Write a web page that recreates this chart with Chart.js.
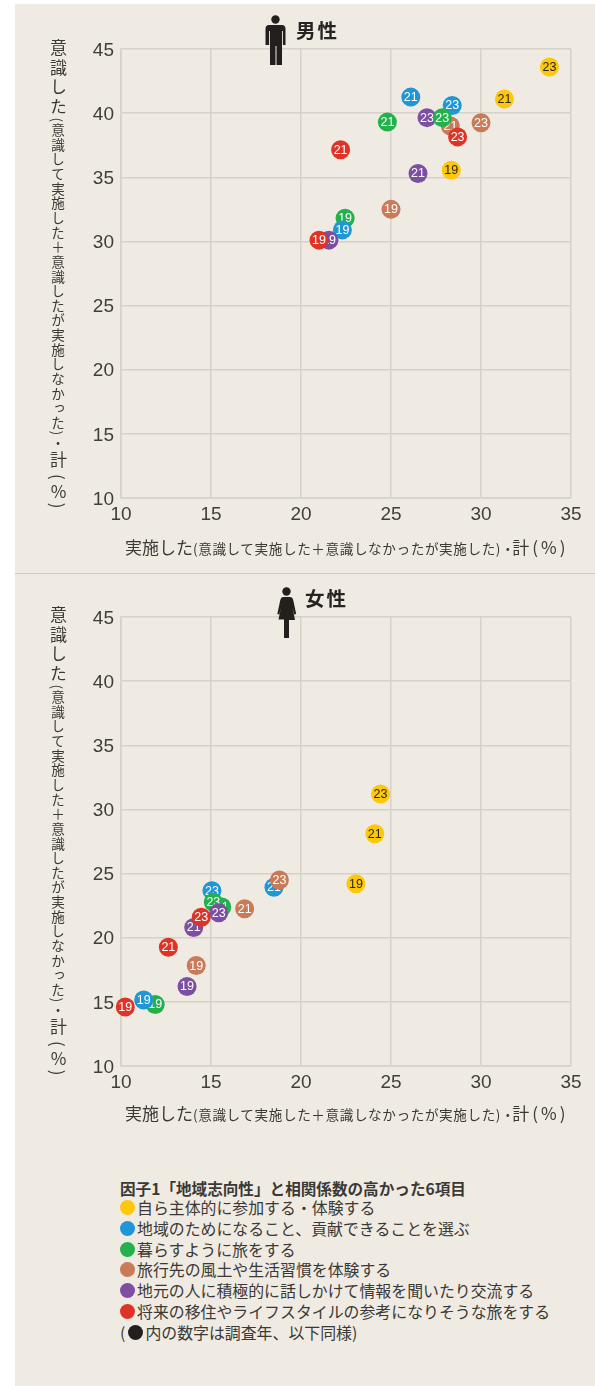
<!DOCTYPE html>
<html lang="ja">
<head>
<meta charset="utf-8">
<title>因子1「地域志向性」と相関係数の高かった6項目</title>
<script src="https://cdn.jsdelivr.net/npm/chart.js@4"></script>
<style>
  html, body { margin: 0; background: #fff; }
  body { position: relative; width: 595px; height: 1386px; overflow: hidden; font-family: "Noto Sans CJK JP", sans-serif; color: #3a3936; }
  #panel { position: absolute; left: 15px; top: 4px; width: 580px; height: 1382px; background: #efebe2; }
  #rule { position: absolute; left: 15px; top: 573px; width: 580px; height: 1px; background: #cfcbc2; }
  canvas { position: absolute; left: 0; }
  .sex { position: absolute; font-size: 19.5px; font-weight: 700; letter-spacing: 2px; line-height: 24px; color: #262422; }
  .icon { position: absolute; fill: #231f1e; }
  .xname, .yname { position: absolute; white-space: nowrap; font-size: 17px; line-height: 22px; }
  .xname small, .yname small { font-size: 13.6px; }
  .yname { writing-mode: vertical-rl; letter-spacing: 2.6px; }
  .yname small { letter-spacing: 1.05px; }
  .yname span { letter-spacing: 3px; margin-top: 3px; display: inline-block; }
  .yname i { font-style: normal; text-orientation: upright; }
  .xname small { letter-spacing: 0.6px; }
  .xname span { letter-spacing: 3px; margin-left: -3px; }
  .key { position: absolute; left: 120px; white-space: nowrap; font-size: 15.9px; line-height: 20px; }
  .key b { display: inline-block; width: 15px; height: 15px; border-radius: 50%; margin-right: 2px; vertical-align: -1px; }
</style>
</head>
<body>
<div id="panel"></div>
<div id="rule"></div>
<canvas id="maleChart" width="595" height="560" style="top:0"></canvas>
<canvas id="femaleChart" width="595" height="560" style="top:568px"></canvas>

<svg class="icon" style="left:265px;top:15px" width="21" height="51" viewBox="0 0 21 51">
  <circle cx="10.5" cy="4.5" r="4.2"/>
  <path d="M4 10h13q3.5 0 3.500 4v16h-2.600V16h-.9v34h-5.500V31h-1v19H5V16h-.9v14H.5V14Q.5 10 4 10z"/>
</svg>
<svg class="icon" style="left:276px;top:587px" width="21" height="51" viewBox="0 0 21 51">
  <circle cx="10.5" cy="4.5" r="4.2"/>
  <path d="M7 10h7q2.500 0 3.200 3l3 14-2 .5-1.700-7 2.500 12.500H13v18.500H8V32.500H2.500L5 20.500l-1.700 7-2-.5 3-14Q5 10 7 10z"/>
</svg>
<div class="sex" style="left:296px;top:18px">男性</div>
<div class="sex" style="left:305px;top:586px">女性</div>

<div class="yname" style="left:47px;top:39px">意識した<small>(意識して実施した＋意識したが実施しなかった)・</small>計<span>(<i>%</i>)</span></div>
<div class="yname" style="left:47px;top:606px">意識した<small>(意識して実施した＋意識したが実施しなかった)・</small>計<span>(<i>%</i>)</span></div>
<div class="xname" style="left:125px;top:536px">実施した<small>(意識して実施した＋意識しなかったが実施した)・</small><span>計(%)</span></div>
<div class="xname" style="left:125px;top:1102px">実施した<small>(意識して実施した＋意識しなかったが実施した)・</small><span>計(%)</span></div>

<div id="keys"></div>

<script>
const items = ["自ら主体的に参加する・体験する", "地域のためになること、貢献できることを選ぶ", "暮らすように旅をする", "旅行先の風土や生活習慣を体験する", "地元の人に積極的に話しかけて情報を聞いたり交流する", "将来の移住やライフスタイルの参考になりそうな旅をする"];
const itemColors = ["#fdc70c", "#1f96d6", "#22b14c", "#c97b59", "#7d4fa3", "#de3427"];
const keyTitle = "因子1「地域志向性」と相関係数の高かった6項目";
const keyNote = "内の数字は調査年、以下同様";

const xTicks = [10, 15, 20, 25, 30, 35];
const yTicks = [10, 15, 20, 25, 30, 35, 40, 45];

// listed in paint order, later points sit on top
const maleItem = [0, 0, 0, 2, 1, 4, 5, 3, 1, 2, 4, 5, 3, 1, 4, 3, 2, 5];
const maleYear = [19, 21, 23, 19, 19, 19, 19, 19, 21, 21, 21, 21, 21, 23, 23, 23, 23, 23];
const maleX = [28.35, 31.3, 33.8, 22.45, 22.3, 21.55, 21.0, 25.0, 26.1, 24.8, 26.5, 22.2, 28.3, 28.4, 27.0, 30.0, 27.85, 28.7];
const maleY = [35.55, 41.1, 43.6, 31.8, 30.9, 30.1, 30.1, 32.5, 41.25, 39.3, 35.3, 37.15, 39.0, 40.6, 39.65, 39.25, 39.65, 38.15];

const femaleItem = [0, 0, 0, 2, 1, 4, 3, 5, 1, 2, 3, 4, 5, 1, 3, 2, 5, 4];
const femaleYear = [19, 21, 23, 19, 19, 19, 19, 19, 21, 21, 21, 21, 21, 23, 23, 23, 23, 23];
const femaleX = [23.05, 24.1, 24.42, 11.9, 11.26, 13.67, 14.18, 10.24, 18.5, 15.6, 16.87, 14.04, 12.63, 15.05, 18.8, 15.13, 14.46, 15.43];
const femaleY = [24.2, 28.1, 31.2, 14.8, 15.15, 16.2, 17.83, 14.6, 23.93, 22.4, 22.26, 20.8, 19.25, 23.67, 24.5, 22.76, 21.6, 21.95];

// year number on each marker, drawn straight after its own dataset so overlaps stay right
const yearLabels = {
  id: "yearLabels",
  afterDatasetDraw(chart, args) {
    const pt = args.meta.data[0];
    const ds = chart.data.datasets[args.index];
    const ctx = chart.ctx;
    ctx.save();
    ctx.font = '12.5px "Liberation Sans", sans-serif';
    ctx.textAlign = "center";
    ctx.textBaseline = "middle";
    ctx.fillStyle = ds.backgroundColor === itemColors[0] ? "#2b2620" : "#fff";
    ctx.fillText(ds.year, pt.x, pt.y + 0.5);
    ctx.restore();
  }
};

function axis(ticks, tickExtra, extra) {
  return {
    min: ticks[0],
    max: ticks[ticks.length - 1],
    afterBuildTicks: s => { s.ticks = ticks.map(value => ({ value })); },
    ticks: { color: "#3f3e3b", font: { family: '"Liberation Sans", sans-serif', size: 19 }, autoSkip: false, maxRotation: 0, ...tickExtra },
    grid: { color: "#d6d2c9", lineWidth: 1.5, drawTicks: false },
    border: { color: "#d6d2c9", width: 1.5 },
    ...extra
  };
}

function draw(id, who, years, xs, ys) {
  new Chart(document.getElementById(id), {
    type: "scatter",
    data: {
      datasets: xs.map((x, i) => ({
        label: items[who[i]],
        year: years[i],
        order: -i,
        data: [{ x, y: ys[i] }],
        clip: false,
        backgroundColor: itemColors[who[i]],
        borderWidth: 0,
        pointRadius: 9.5,
        pointHoverRadius: 9.5
      }))
    },
    options: {
      responsive: false,
      animation: false,
      events: [],
      layout: { padding: { top: 49, right: 24, left: 0, bottom: 0 } },
      plugins: { legend: { display: false }, tooltip: { enabled: false } },
      scales: {
        x: axis(xTicks, { padding: 5 }, { afterFit: s => { s.height = 62; } }),
        y: axis(yTicks, { padding: 7, labelOffset: 1.5 }, { afterFit: s => { s.width = 121; } })
      }
    },
    plugins: [yearLabels]
  });
}

draw("maleChart", maleItem, maleYear, maleX, maleY);
draw("femaleChart", femaleItem, femaleYear, femaleX, femaleY);

// colour key under the charts
const keys = document.getElementById("keys");
const addKey = (top, html) => {
  const row = document.createElement("div");
  row.className = "key";
  row.style.top = top + "px";
  row.innerHTML = html;
  keys.appendChild(row);
};
addKey(1178, `<strong style="font-size:15.6px">${keyTitle}</strong>`);
items.forEach((name, i) => addKey(1198 + i * 20.8, `<b style="background:${itemColors[i]}"></b>${name}`));
addKey(1323, `(<b style="background:#231f1e;margin-left:3px"></b>${keyNote})`);
</script>
</body>
</html>
